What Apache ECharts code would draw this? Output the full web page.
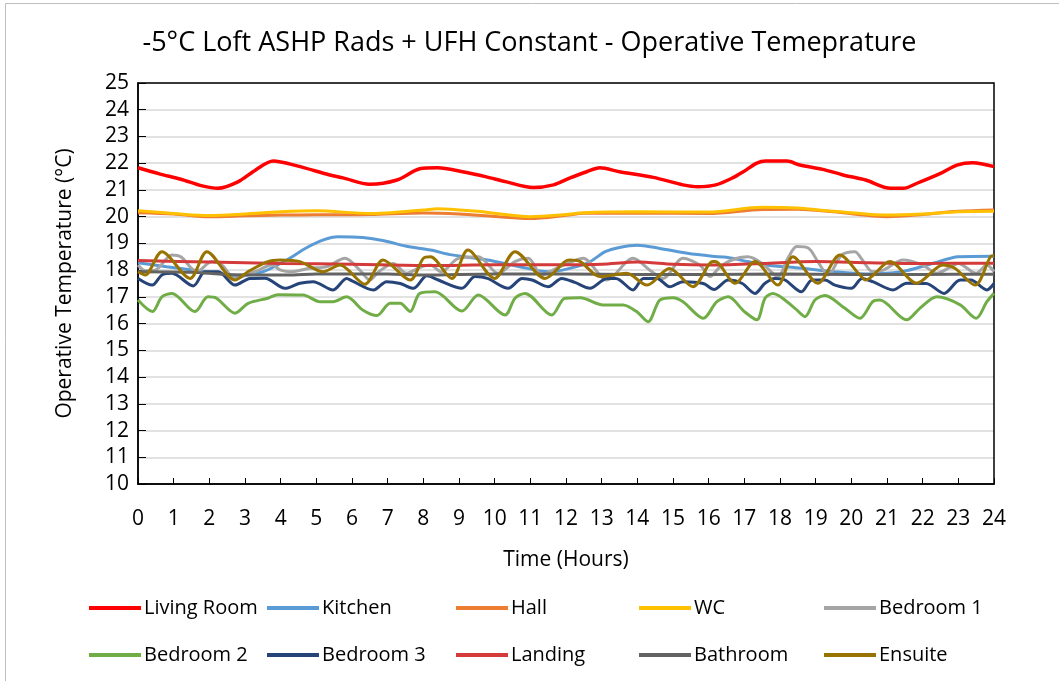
<!DOCTYPE html>
<html>
<head>
<meta charset="utf-8">
<script src="https://cdn.jsdelivr.net/npm/echarts@6/dist/echarts.min.js"></script>
<style>
  html, body { margin: 0; padding: 0; background: #fff; }
  #chart { width: 1059px; height: 681px; }
</style>
</head>
<body>
<div id="chart"></div>
<script>
// 各房间数据 [小时, 温度]
const livingRoom = [[0,21.83],[0.6,21.6],[1.2,21.4],[1.8,21.15],[2.24,21.06],[2.8,21.3],[3.3,21.75],[3.79,22.08],[4.46,21.9],[5.38,21.56],[5.75,21.45],[6.5,21.21],[7.26,21.37],[7.9,21.79],[8.4,21.83],[9.1,21.68],[9.77,21.49],[10.3,21.31],[11.08,21.09],[11.65,21.19],[12.1,21.44],[12.58,21.68],[12.95,21.83],[13.5,21.68],[14.45,21.47],[15.28,21.19],[15.7,21.12],[16.2,21.19],[16.7,21.47],[16.97,21.68],[17.35,22.0],[17.6,22.08],[18.2,22.08],[18.56,21.93],[19.2,21.77],[19.77,21.56],[20.4,21.37],[21.1,21.06],[21.45,21.06],[21.84,21.25],[22.5,21.62],[22.96,21.93],[23.4,22.02],[24,21.87]];
const kitchen = [[0,18.28],[0.8,18.13],[1.7,17.98],[2.8,17.8],[3.5,17.94],[4.17,18.38],[4.7,18.82],[5.2,19.13],[5.6,19.25],[6.3,19.22],[6.9,19.1],[7.5,18.9],[8.2,18.75],[8.8,18.57],[9.8,18.38],[10.7,18.13],[11.5,17.94],[11.9,18.0],[12.6,18.26],[13.1,18.69],[13.5,18.85],[14,18.93],[14.6,18.82],[15.4,18.63],[16.1,18.52],[16.5,18.48],[17.1,18.32],[17.6,18.19],[18.6,18.07],[19.5,17.94],[20.4,17.86],[21.4,17.94],[22.3,18.26],[23,18.5],[24,18.52]];
const hall = [[0,20.15],[1,20.1],[2,20.0],[3,20.03],[4,20.06],[5,20.07],[6.5,20.08],[8,20.14],[9,20.1],[10,20.01],[11,19.93],[12,20.05],[12.5,20.13],[14,20.13],[16,20.12],[17.5,20.27],[18.5,20.28],[19.5,20.18],[21,20.0],[22,20.08],[23,20.2],[24,20.25]];
const wc = [[0,20.22],[1,20.12],[2,20.04],[3,20.1],[4,20.18],[5,20.22],[6.5,20.12],[8,20.25],[8.4,20.3],[9.5,20.2],[11,20.0],[12,20.08],[12.5,20.15],[14,20.18],[16,20.17],[17.5,20.35],[18.5,20.32],[19.5,20.2],[21,20.06],[22,20.1],[23,20.18],[24,20.2]];
const bedroom1 = [[0,18.19],[0.2,17.98],[0.48,18.0],[0.95,18.57],[1.2,18.5],[1.65,17.94],[2.07,18.32],[2.35,18.19],[2.72,17.69],[3.28,17.94],[3.75,18.19],[4.0,18.0],[4.3,17.94],[4.82,18.07],[5.3,18.13],[5.8,18.44],[6.22,18.0],[6.5,17.63],[6.75,17.94],[7.15,18.25],[7.53,17.88],[7.9,18.1],[8.2,18.19],[8.5,17.94],[8.98,18.44],[9.54,18.5],[10.1,17.88],[10.57,18.32],[10.94,18.44],[11.32,17.82],[11.78,18.1],[12.17,18.32],[12.48,18.44],[13.14,17.63],[13.88,18.44],[14.35,18.0],[14.72,17.69],[15.28,18.44],[15.75,18.19],[16.04,17.76],[16.3,18.1],[16.65,18.38],[17.1,18.5],[17.5,18.25],[17.94,17.76],[18.22,18.44],[18.47,18.88],[18.8,18.82],[19.06,18.32],[19.35,17.82],[19.73,18.57],[20.1,18.69],[20.3,18.4],[20.6,17.94],[20.9,18.0],[21.45,18.38],[22.0,18.19],[22.4,17.88],[22.76,18.1],[23.0,18.25],[23.5,17.88],[23.8,18.19],[24,17.94]];
const bedroom2 = [[0,16.88],[0.4,16.45],[0.67,17.0],[0.95,17.13],[1.6,16.45],[1.96,17.0],[2.2,16.95],[2.72,16.39],[3.09,16.76],[3.64,16.95],[3.92,17.08],[4.63,17.07],[5.1,16.82],[5.47,16.82],[5.85,17.0],[6.3,16.51],[6.7,16.3],[7.07,16.76],[7.35,16.76],[7.63,16.45],[7.9,17.13],[8.33,17.19],[9.08,16.47],[9.54,17.07],[10.29,16.32],[10.57,16.95],[10.85,17.13],[11.6,16.32],[11.97,16.95],[12.4,16.97],[13.04,16.7],[13.6,16.7],[13.98,16.45],[14.3,16.07],[14.63,16.88],[15.0,16.97],[15.28,16.82],[15.85,16.2],[16.23,16.82],[16.55,17.0],[17.0,16.45],[17.35,16.14],[17.58,16.95],[17.8,17.13],[18.42,16.57],[18.7,16.26],[18.98,16.88],[19.26,17.05],[19.82,16.57],[20.24,16.2],[20.6,16.82],[20.8,16.88],[21.55,16.14],[21.92,16.57],[22.4,17.0],[23.05,16.7],[23.5,16.2],[23.8,16.82],[24,17.13]];
const bedroom3 = [[0,17.69],[0.4,17.44],[0.67,17.82],[0.95,17.88],[1.55,17.41],[1.88,17.94],[2.25,17.94],[2.72,17.44],[3.14,17.69],[3.56,17.7],[4.12,17.32],[4.54,17.51],[4.91,17.57],[5.47,17.26],[5.85,17.69],[6.0,17.6],[6.6,17.26],[6.97,17.57],[7.35,17.5],[7.72,17.32],[8.1,17.79],[8.42,17.63],[9.08,17.32],[9.45,17.76],[9.8,17.69],[10.38,17.32],[10.77,17.69],[11.05,17.63],[11.5,17.38],[11.88,17.69],[12.25,17.54],[12.67,17.32],[13.15,17.69],[13.4,17.69],[13.88,17.26],[14.17,17.69],[14.55,17.69],[14.91,17.38],[15.28,17.57],[15.85,17.5],[16.15,17.28],[16.55,17.63],[16.93,17.51],[17.3,17.13],[17.58,17.51],[17.86,17.69],[18.14,17.63],[18.6,17.19],[18.9,17.63],[19.26,17.63],[19.54,17.44],[20.0,17.32],[20.3,17.69],[20.6,17.57],[21.17,17.26],[21.55,17.51],[22.1,17.5],[22.6,17.13],[23.05,17.63],[23.35,17.63],[23.8,17.26],[24,17.5]];
const landing = [[0,18.36],[2,18.3],[4,18.25],[6,18.22],[8.2,18.17],[10,18.2],[12,18.2],[13,18.22],[14,18.3],[15,18.22],[16,18.19],[17.5,18.25],[19,18.32],[20.5,18.28],[22,18.25],[24,18.26]];
const bathroom = [[0,17.94],[1.5,17.92],[2.5,17.84],[4.2,17.82],[5,17.86],[7,17.86],[8,17.82],[10,17.86],[12,17.86],[14,17.84],[16,17.84],[18,17.86],[20,17.84],[22,17.84],[24,17.85]];
const ensuite = [[0,17.94],[0.2,17.82],[0.67,18.69],[1.46,17.69],[1.93,18.69],[2.72,17.63],[3.08,17.94],[3.64,18.32],[3.98,18.38],[4.54,18.32],[5.19,17.94],[5.66,18.19],[6.36,17.47],[6.87,18.38],[7.63,17.63],[8.0,18.44],[8.2,18.5],[8.8,17.69],[9.25,18.75],[10.0,17.69],[10.57,18.69],[11.41,17.69],[11.97,18.32],[12.1,18.38],[12.4,18.32],[12.95,17.76],[13.7,17.88],[14.27,17.44],[14.9,18.06],[15.56,17.38],[16.12,18.32],[16.18,18.32],[16.74,17.51],[17.3,18.32],[17.94,17.44],[18.36,18.5],[19.06,17.51],[19.68,18.57],[20.24,17.82],[20.4,17.63],[21.08,18.32],[21.83,17.51],[22.57,18.19],[22.9,18.07],[23.47,17.44],[23.9,18.5],[24,18.55]];

const seriesNames = ['Living Room', 'Kitchen', 'Hall', 'WC', 'Bedroom 1', 'Bedroom 2', 'Bedroom 3', 'Landing', 'Bathroom', 'Ensuite'];
const seriesData = [livingRoom, kitchen, hall, wc, bedroom1, bedroom2, bedroom3, landing, bathroom, ensuite];
const seriesColors = ['#ff0000', '#5b9bd5', '#ed7d31', '#ffc000', '#a5a5a5', '#70ad47', '#264478', '#d43a3a', '#636363', '#997300'];

const FONT = 'Open Sans';
const colX = [84, 262, 451, 634, 819];
const rowY = [593, 640];

const chart = echarts.init(document.getElementById('chart'), null, { renderer: 'canvas' });

const series = seriesNames.map((name, i) => ({
  name,
  type: 'line',
  data: seriesData[i],
  showSymbol: false,
  smooth: 0.3,
  color: seriesColors[i],
  lineStyle: { width: i === 0 ? 3.5 : 3, color: seriesColors[i] },
  z: 2 + i,
}));

// 每个图例单独定位，模仿Excel的网格排列
const legends = seriesNames.map((name, i) => ({
  data: [name],
  left: colX[i % 5],
  top: rowY[Math.floor(i / 5)],
  icon: 'rect',
  itemWidth: 52,
  itemHeight: 4,
  itemGap: 0,
  textStyle: { fontFamily: FONT, fontSize: 20, color: '#000', padding: [0, 0, 0, -2] },
}));

chart.setOption({
  animation: false,
  backgroundColor: '#fff',
  title: {
    text: '-5°C Loft ASHP Rads + UFH Constant - Operative Temeprature',
    left: 'center',
    top: 25,
    textStyle: { fontFamily: FONT, fontSize: 27, fontWeight: 'normal', color: '#000' },
  },
  graphic: [{
    type: 'rect',
    shape: { x: 5.5, y: 3.5, width: 1060, height: 700 },
    style: { fill: 'none', stroke: '#bfbfbf', lineWidth: 1 },
    silent: true,
  }],
  legend: legends,
  grid: { left: 138, top: 83, right: 65, bottom: 197, containLabel: false },
  xAxis: {
    type: 'value',
    min: 0,
    max: 24,
    interval: 1,
    name: 'Time (Hours)',
    nameLocation: 'middle',
    nameGap: 66,
    nameTextStyle: { fontFamily: FONT, fontSize: 21, color: '#000' },
    axisLine: { show: true, lineStyle: { color: '#000', width: 1.5 } },
    axisTick: { show: true, inside: true, length: 6, lineStyle: { color: '#000' } },
    axisLabel: { fontFamily: FONT, fontSize: 21, color: '#000', margin: 25 },
    splitLine: { show: false },
  },
  yAxis: {
    type: 'value',
    min: 10,
    max: 25,
    interval: 1,
    name: 'Operative Temperature (°C)',
    nameLocation: 'middle',
    nameGap: 62,
    nameTextStyle: { fontFamily: FONT, fontSize: 21, color: '#000' },
    axisLine: { show: true, lineStyle: { color: '#000', width: 1.5 } },
    axisTick: { show: true, inside: true, length: 8, lineStyle: { color: '#000' } },
    axisLabel: { fontFamily: FONT, fontSize: 21, color: '#000', margin: 9 },
    splitLine: { show: true, lineStyle: { color: '#d9d9d9', width: 1.5 } },
  },
  series: series.concat([{
    // 绘图区边框
    type: 'line',
    data: [],
    markArea: {
      silent: true,
      itemStyle: { color: 'rgba(0,0,0,0)', borderColor: '#000', borderWidth: 1.5 },
      data: [[{ coord: [0, 10] }, { coord: [24, 25] }]],
    },
  }]),
});
</script>
</body>
</html>
